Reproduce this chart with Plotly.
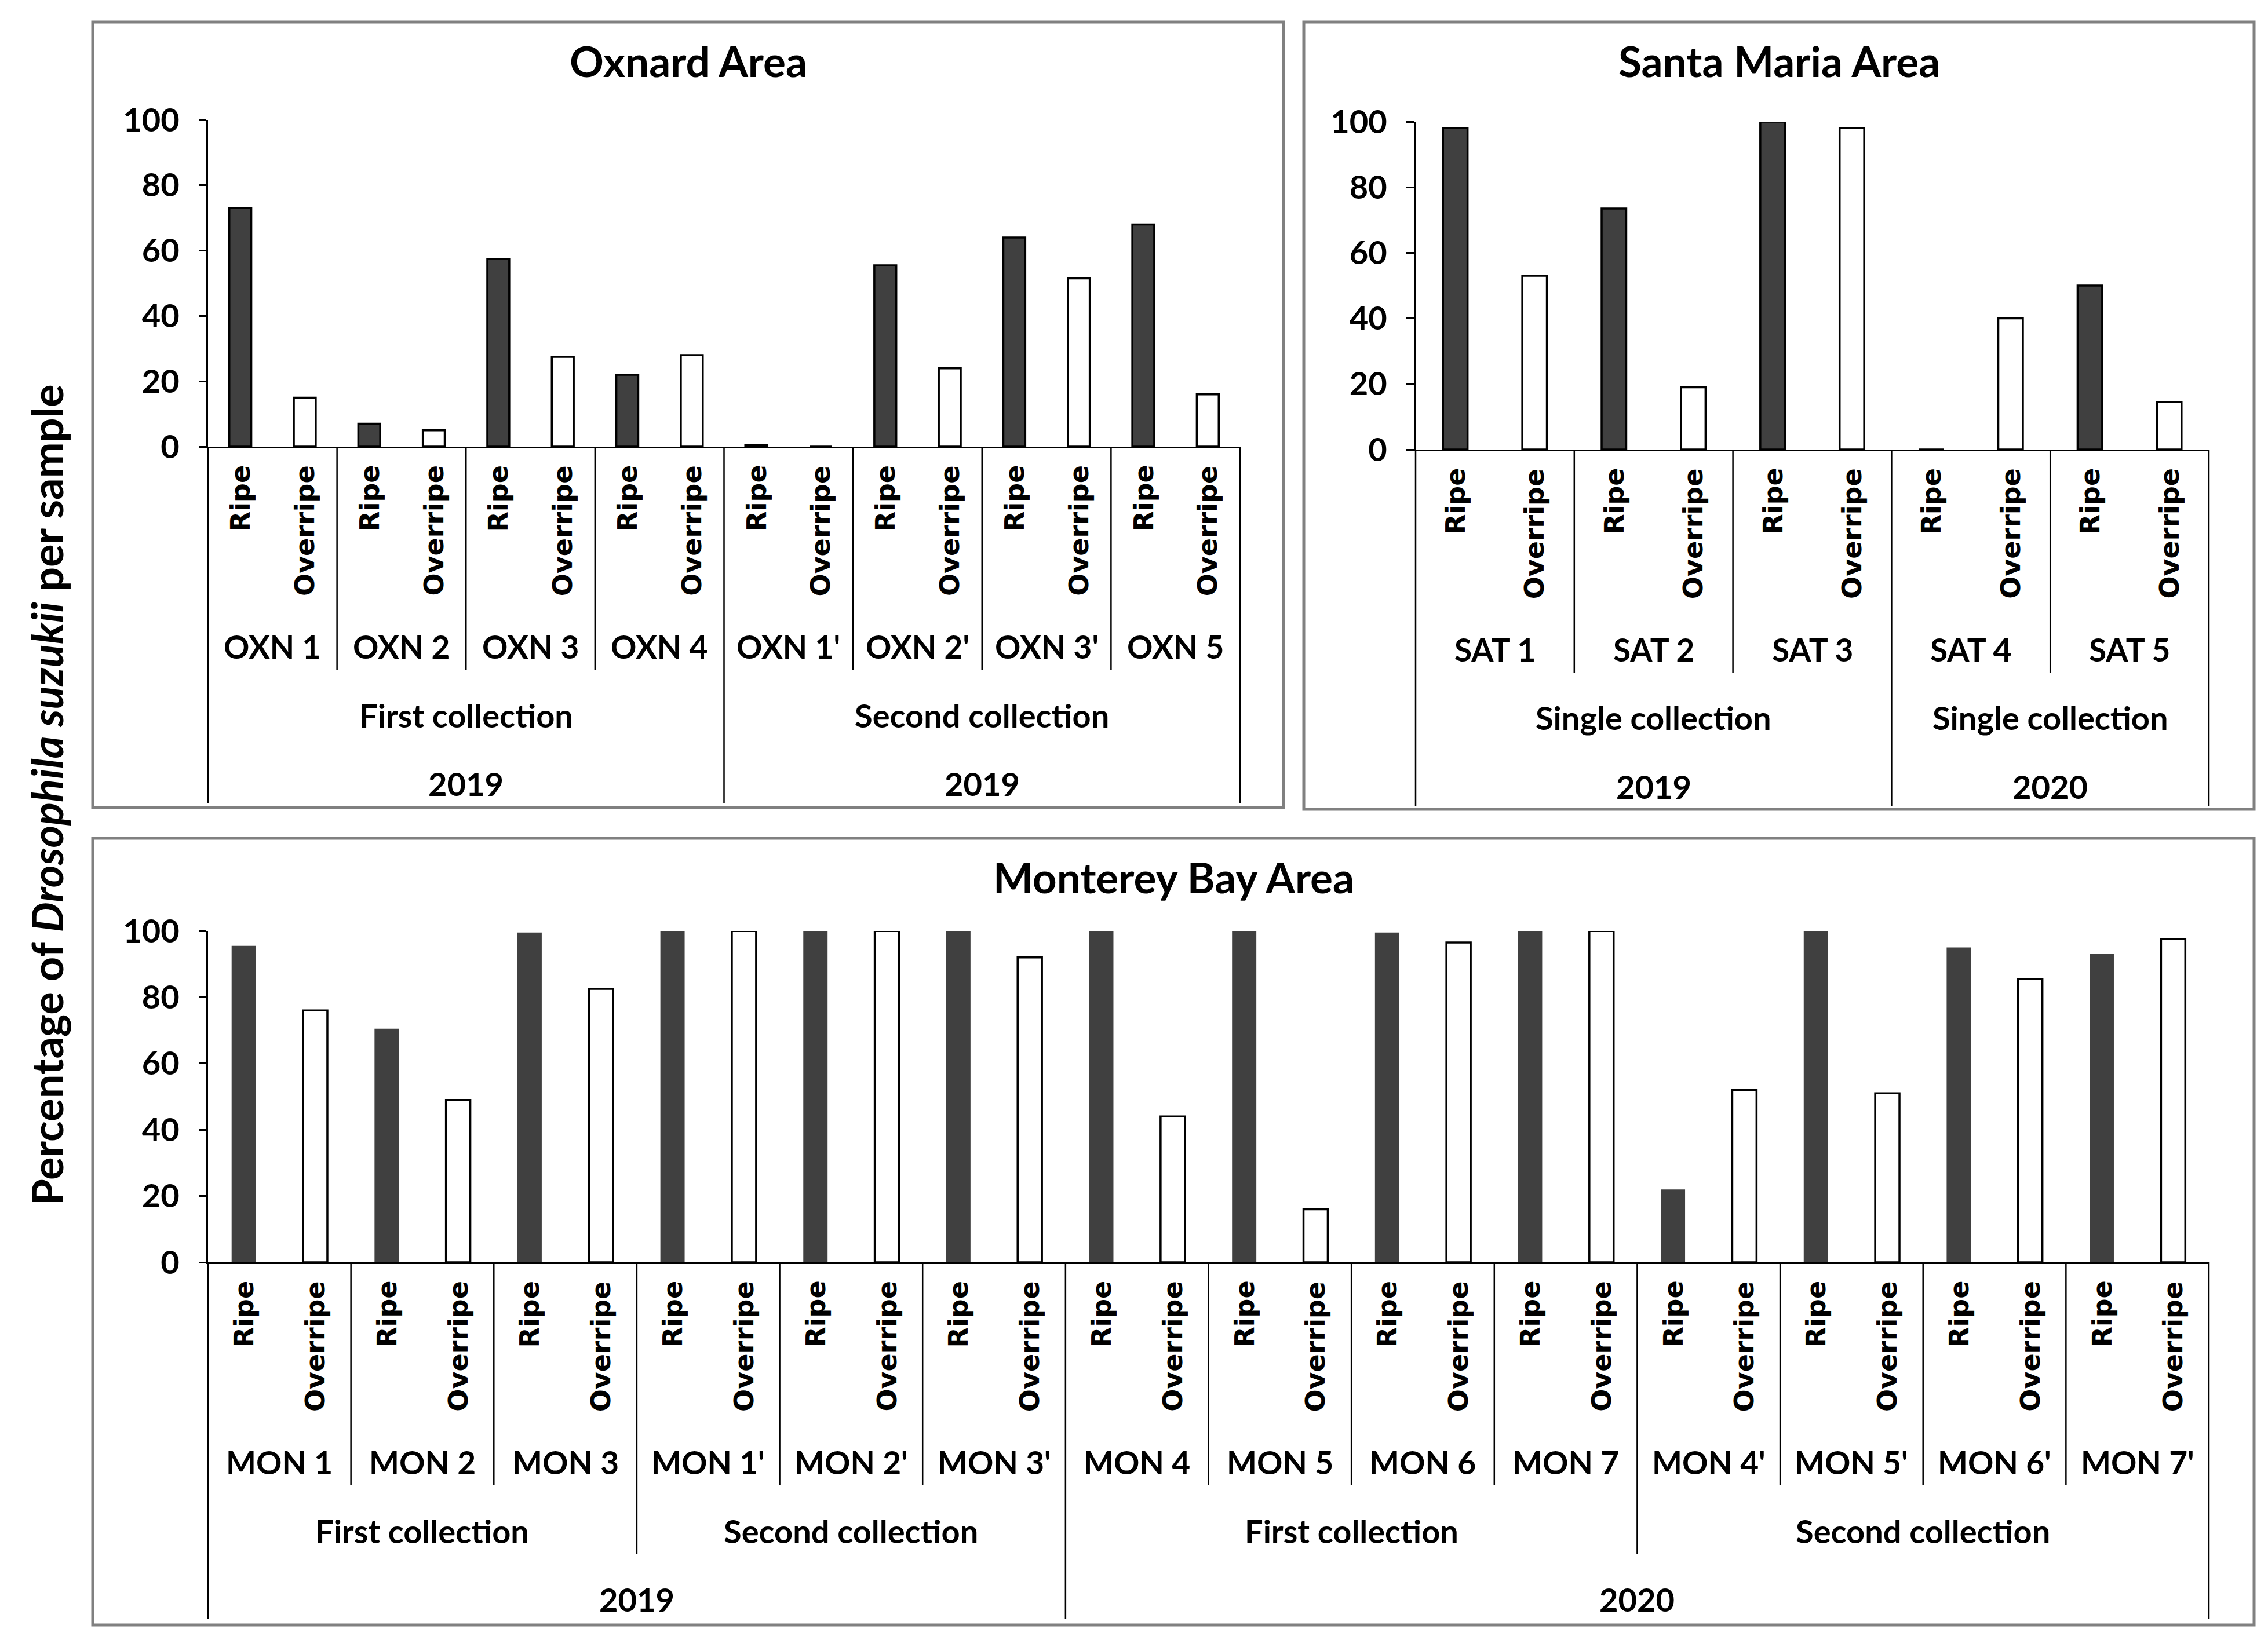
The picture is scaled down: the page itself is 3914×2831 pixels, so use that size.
import plotly.graph_objects as go

W, H = 3914, 2831

# ---------------- data ----------------
fruit_labels = ["Ripe", "Overripe"]

oxn_groups = ["OXN 1", "OXN 2", "OXN 3", "OXN 4", "OXN 1'", "OXN 2'", "OXN 3'", "OXN 5"]
oxn_ripe = [73, 7, 57.5, 22, 0.5, 55.5, 64, 68]
oxn_overripe = [15, 5, 27.5, 28, 0, 24, 51.5, 16]
oxn_collections = ["First collection", "Second collection"]
oxn_collection_sizes = [4, 4]
oxn_years = ["2019", "2019"]
oxn_year_sizes = [4, 4]

sat_groups = ["SAT 1", "SAT 2", "SAT 3", "SAT 4", "SAT 5"]
sat_ripe = [98, 73.5, 100, 0, 50]
sat_overripe = [53, 19, 98, 40, 14.5]
sat_collections = ["Single collection", "Single collection"]
sat_collection_sizes = [3, 2]
sat_years = ["2019", "2020"]
sat_year_sizes = [3, 2]

mon_groups = ["MON 1", "MON 2", "MON 3", "MON 1'", "MON 2'", "MON 3'", "MON 4",
              "MON 5", "MON 6", "MON 7", "MON 4'", "MON 5'", "MON 6'", "MON 7'"]
mon_ripe = [95.5, 70.5, 99.5, 100, 100, 100, 100, 100, 99.5, 100, 22, 100, 95, 93]
mon_overripe = [76, 49, 82.5, 100, 100, 92, 44, 16, 96.5, 100, 52, 51, 85.5, 97.5]
mon_collections = ["First collection", "Second collection", "First collection", "Second collection"]
mon_collection_sizes = [3, 3, 4, 4]
mon_years = ["2019", "2020"]
mon_year_sizes = [6, 8]

y_ticks = [0, 20, 40, 60, 80, 100]
y_title = "Percentage of <i>Drosophila suzukii</i> per sample"

# ---------------- style ----------------
CAL = "Lato, Carlito, Calibri, sans-serif"
VER = "DejaVu Sans, Verdana, sans-serif"
DARK = "#404040"
OFF = 8  # page body margin


def px(p):
    return (p - OFF) / W


def py(p):
    return 1 - (p - OFF) / H


panels = [
    dict(title="Oxnard Area", groups=oxn_groups, ripe=oxn_ripe, over=oxn_overripe,
         colls=oxn_collections, csz=oxn_collection_sizes, years=oxn_years, ysz=oxn_year_sizes,
         x0=359, x1=2140, y0=771, y100=207, box=(160, 38, 2215, 1394), bw=0.34, rline=3.5),
    dict(title="Santa Maria Area", groups=sat_groups, ripe=sat_ripe, over=sat_overripe,
         colls=sat_collections, csz=sat_collection_sizes, years=sat_years, ysz=sat_year_sizes,
         x0=2443, x1=3812, y0=776, y100=210, box=(2250, 38, 3890, 1397), bw=0.31, rline=3.5),
    dict(title="Monterey Bay Area", groups=mon_groups, ripe=mon_ripe, over=mon_overripe,
         colls=mon_collections, csz=mon_collection_sizes, years=mon_years, ysz=mon_year_sizes,
         x0=359, x1=3812, y0=2179, y100=1607, box=(160, 1447, 3890, 2805), bw=0.34, rline=0),
]

fig = go.Figure()
annotations = []
shapes = []
layout_axes = {}

for k, p in enumerate(panels, start=1):
    xa = "x" if k == 1 else f"x{k}"
    ya = "y" if k == 1 else f"y{k}"
    n = len(p["groups"])
    ncat = 2 * n
    xr = [i * 2 + 0.5 for i in range(n)]
    xo = [i * 2 + 1.5 for i in range(n)]
    fig.add_trace(go.Bar(x=xr, y=p["ripe"], width=p["bw"], xaxis=xa, yaxis=ya,
                         marker=dict(color=DARK, line=dict(color="black", width=p["rline"])),
                         name="Ripe", showlegend=False))
    fig.add_trace(go.Bar(x=xo, y=p["over"], width=p["bw"], xaxis=xa, yaxis=ya,
                         marker=dict(color="white", line=dict(color="black", width=3.5)),
                         name="Overripe", showlegend=False))

    xkey = "xaxis" if k == 1 else f"xaxis{k}"
    ykey = "yaxis" if k == 1 else f"yaxis{k}"
    layout_axes[xkey] = dict(domain=[px(p["x0"]), px(p["x1"])], range=[0, ncat],
                             showline=True, linecolor="black", linewidth=3,
                             showticklabels=False, ticks="", showgrid=False, zeroline=False,
                             anchor=ya, automargin=False)
    layout_axes[ykey] = dict(domain=[py(p["y0"]), py(p["y100"])], range=[0, 100],
                             tickvals=y_ticks, ticks="outside", ticklen=13, tickwidth=3,
                             tickcolor="black", showline=True, linecolor="black", linewidth=3,
                             showgrid=False, zeroline=False, anchor=xa, automargin=False,
                             ticklabelstandoff=22,
                             tickfont=dict(family=CAL, size=56, color="black", weight="bold"))

    y0 = p["y0"]
    for c in range(ncat):
        annotations.append(dict(text=fruit_labels[c % 2], x=c + 0.5, xref=xa,
                                y=py(y0 + 30), yref="paper", textangle=-90,
                                xanchor="center", yanchor="top", showarrow=False,
                                font=dict(family=VER, size=46, color="black", weight="bold")))
    for i, g in enumerate(p["groups"]):
        annotations.append(dict(text=g, x=2 * i + 1, xref=xa, y=py(y0 + 345), yref="paper",
                                xanchor="center", yanchor="middle", showarrow=False,
                                font=dict(family=CAL, size=55, color="black", weight="bold")))
    start = 0
    coll_b = set()
    for lab, sz in zip(p["colls"], p["csz"]):
        annotations.append(dict(text=lab, x=2 * start + sz, xref=xa, y=py(y0 + 463), yref="paper",
                                xanchor="center", yanchor="middle", showarrow=False,
                                font=dict(family=CAL, size=56, color="black", weight="bold")))
        start += sz
        coll_b.add(2 * start)
    start = 0
    year_b = set()
    for lab, sz in zip(p["years"], p["ysz"]):
        annotations.append(dict(text=lab, x=2 * start + sz, xref=xa, y=py(y0 + 581), yref="paper",
                                xanchor="center", yanchor="middle", showarrow=False,
                                font=dict(family=CAL, size=56, color="black", weight="bold")))
        start += sz
        year_b.add(2 * start)
    for b in range(0, ncat + 1, 2):
        if b == 0 or b == ncat or b in year_b:
            yend = y0 + 616
        elif b in coll_b:
            yend = y0 + 503
        else:
            yend = y0 + 385
        xp = px(p["x0"] + b / ncat * (p["x1"] - p["x0"]))
        shapes.append(dict(type="line", xref="paper", yref="paper", x0=xp, x1=xp,
                           y0=py(y0), y1=py(yend), line=dict(color="black", width=2.5)))
    bx0, by0, bx1, by1 = p["box"]
    shapes.append(dict(type="rect", xref="paper", yref="paper", x0=px(bx0), x1=px(bx1),
                       y0=py(by0), y1=py(by1), line=dict(color="#808080", width=5),
                       fillcolor="rgba(0,0,0,0)", layer="below"))
    annotations.append(dict(text=p["title"], x=px((bx0 + bx1) / 2), xref="paper",
                            y=py(by0 + 67), yref="paper", xanchor="center", yanchor="middle",
                            showarrow=False,
                            font=dict(family=CAL, size=73, color="black", weight="bold")))

annotations.append(dict(text=y_title, x=px(80), xref="paper", y=py(1372), yref="paper",
                        textangle=-90, xanchor="center", yanchor="middle", showarrow=False,
                        font=dict(family=CAL, size=74, color="black", weight="bold")))

fig.update_layout(width=W, height=H,
                  margin=dict(l=0, r=0, t=0, b=0, pad=0, autoexpand=False),
                  paper_bgcolor="white", plot_bgcolor="white", barmode="overlay",
                  showlegend=False, annotations=annotations, shapes=shapes, **layout_axes)

fig.write_html("out.html")
